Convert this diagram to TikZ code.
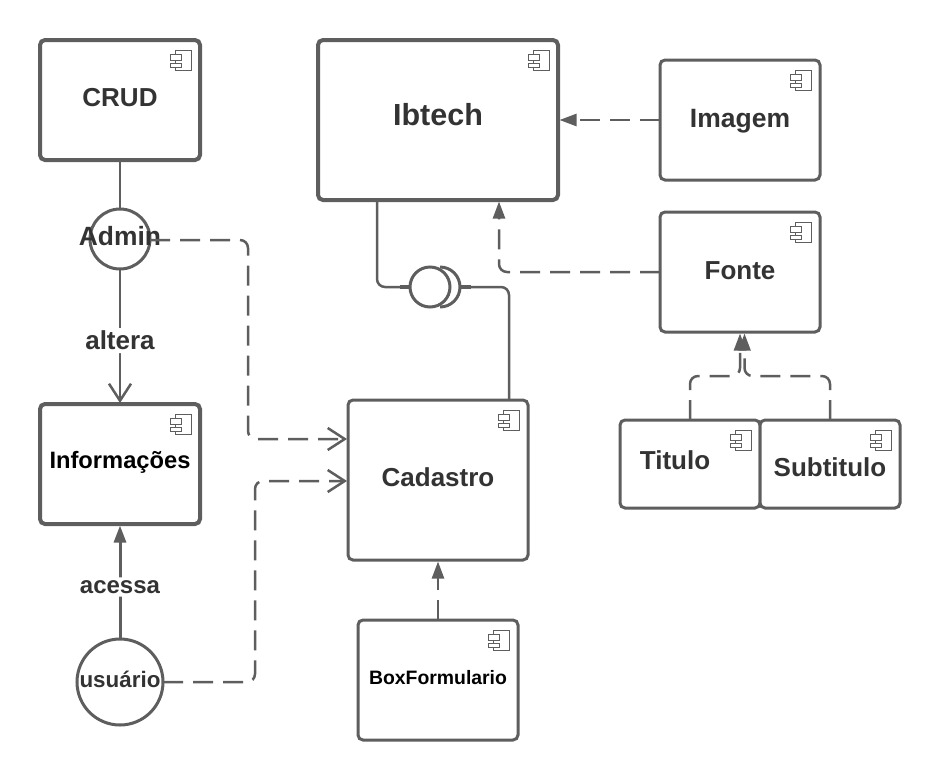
\documentclass[tikz,border=0pt]{standalone}
\usepackage{fontspec}
\setmainfont{Liberation Sans}
\usetikzlibrary{arrows.meta, positioning}

\definecolor{linegray}{HTML}{5E5E5E}
\definecolor{textgray}{HTML}{333333}

\tikzset{
  comp/.style={draw=linegray, line width=3pt, rounded corners=5pt, outer sep=0pt, fill=white,
    font=\bfseries\fontsize{26}{30}\selectfont, text=textgray, minimum width=160pt, minimum height=120pt},
  compbold/.style={comp, line width=4pt},
  actor/.style={draw=linegray, line width=3pt, circle, outer sep=0pt, inner sep=0pt},
  lbl/.style={font=\bfseries\fontsize{#1}{30}\selectfont, text=textgray, inner sep=1pt},
  conn/.style={draw=linegray, line width=2.5pt, rounded corners=8pt},
  dep/.style={conn, dash pattern=on 20pt off 10pt},
  solidhead/.style={-{Triangle[length=17pt,width=12pt]}, shorten >=1.5pt},
  openhead/.style={-{Straight Barb[length=17pt,width=22pt,line width=2.5pt]}, shorten >=1pt},
  compicon/.pic={
    \draw[linegray, line width=1pt, fill=white] (-25,-10) rectangle (-9,-30);
    \draw[linegray, line width=1pt, fill=white] (-30,-14) rectangle (-19,-20);
    \draw[linegray, line width=1pt, fill=white] (-30,-23) rectangle (-19,-27);
  }
}

\begin{document}
\begin{tikzpicture}[x=1pt, y=1pt]
  \useasboundingbox (0,0) rectangle (940,-780);

  \node[compbold, text depth=6pt] (crud) at (120,-100) {CRUD};
  \node[compbold, minimum width=240pt, minimum height=160pt, text depth=12pt,
    font=\bfseries\fontsize{30.5}{34}\selectfont,
    right=118pt of crud.north east, anchor=north west] (ibtech) {Ibtech};
  \node[comp, text depth=4pt, font=\bfseries\fontsize{26.5}{30}\selectfont, right=102pt of ibtech] (imagem) {Imagem};
  \node[comp, text depth=3pt, below=32pt of imagem] (fonte) {Fonte};
  \node[comp, minimum width=140pt, minimum height=88pt, text depth=8pt,
    below=88pt of fonte.south, xshift=-50pt] (titulo) {Titulo\hspace*{30pt}};
  \node[comp, minimum width=140pt, minimum height=88pt, text depth=0pt, text height=25pt, right=0pt of titulo] (subtitulo) {Subtitulo};

  \node[actor, minimum size=60pt, below=49pt of crud,
    label={[lbl=26.4, name=admintxt, yshift=3pt]center:Admin}] (admin) {};
  \node[compbold, text depth=8pt, font=\bfseries\fontsize{23.7}{28}\selectfont, text=black,
    below=135pt of admin] (info) {Informações};
  \node[actor, minimum size=86pt, below=115pt of info,
    label={[lbl=22.4, name=usuariotxt, yshift=3pt]center:usuário}] (usuario) {};

  \node[comp, minimum width=180pt, minimum height=160pt, text depth=6pt, below=200pt of ibtech] (cadastro) {Cadastro};
  \node[comp, text depth=6pt, font=\bfseries\fontsize{19.4}{24}\selectfont, text=black,
    below=60pt of cadastro] (boxform) {BoxFormulario};

  \node[actor, minimum size=40pt, below=67pt of ibtech.south, xshift=-8pt] (plug) {};
  \coordinate[right=10pt of plug.north] (sockettop);
  \coordinate[right=10pt of plug.east] (socketend);

  % component icons
  \foreach \comp in {crud, ibtech, imagem, fonte, titulo, subtitulo, info, cadastro, boxform}
    \pic at (\comp.north east) {compicon};

  % solid links
  \draw[conn] (crud) -- (admin);
  \draw[conn, openhead] (admin) -- node[lbl=26, fill=white, pos=.53, inner sep=3pt] (alteralbl) {altera} (info);
  \draw[conn, line width=3pt, solidhead] (usuario) -- node[lbl=24, fill=white, pos=.47, inner sep=3pt, yshift=-2pt] (acessalbl) {acessa} (info);

  % interface between ibtech and cadastro
  \draw[conn] ([xshift=-61pt]ibtech.south) |- (plug.west);
  \draw[conn, line width=3.4pt] ([xshift=-10pt]plug.west) -- (plug.west);
  \draw[linegray, line width=3pt] (sockettop) arc[start angle=90, end angle=-90, radius=20pt];
  \draw[conn] (socketend) -| ([xshift=71pt]cadastro.north);
  \draw[conn, line width=3.4pt] (socketend) -- ([xshift=11pt]socketend);

  % dependencies
  \draw[dep, openhead] ([yshift=-1pt]admin.east) -| ([xshift=-100pt,yshift=41pt]cadastro.west) -- ([yshift=41pt]cadastro.west);
  \draw[dep, openhead] (usuario.east) -- ++(92,0) |- ([yshift=-1pt]cadastro.west);
  \draw[dep, solidhead] (imagem) -- (ibtech);
  \draw[dep, solidhead] (fonte.west) -| ([xshift=61pt]ibtech.south);
  \draw[dep, solidhead] (titulo.north) |- ([yshift=-44pt]fonte.south) -- (fonte.south);
  \draw[dep, solidhead] (subtitulo.north) |- ([yshift=-44pt,xshift=4.5pt]fonte.south) -- ([xshift=4.5pt]fonte.south);
  \draw[dep, solidhead] (boxform) -- (cadastro);
\end{tikzpicture}
\end{document}
